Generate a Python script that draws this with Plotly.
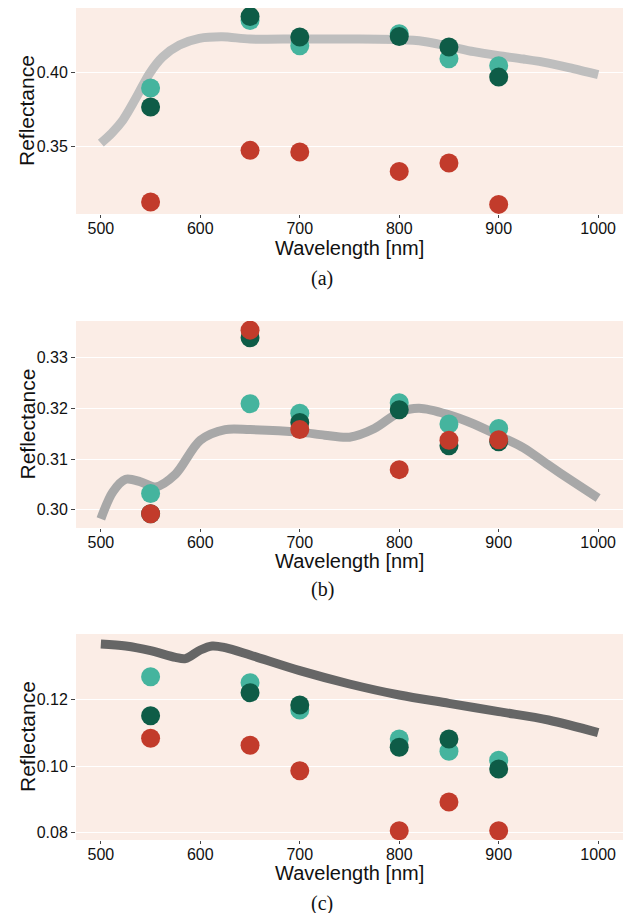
import plotly.graph_objects as go

W, H = 630, 913

wl_pts = [550, 650, 700, 800, 850, 900]

# Panel (a)
a_teal = [0.3894, 0.4351, 0.4180, 0.4261, 0.4092, 0.4045]
a_dark = [0.3766, 0.4378, 0.4239, 0.4243, 0.4171, 0.3968]
a_red = [0.3124, 0.3473, 0.3462, 0.3331, 0.3387, 0.3108]
a_line_x = [500, 511, 522, 535, 549, 562, 579, 599, 622, 650, 700, 750, 800, 825, 850, 875, 900, 925, 950, 975, 1000]
a_line_y = [0.3522, 0.3590, 0.3676, 0.3823, 0.3993, 0.4104, 0.4185, 0.4230, 0.4241, 0.4225, 0.4226, 0.4226, 0.4222, 0.4209, 0.4176, 0.4140, 0.4113, 0.4090, 0.4063, 0.4025, 0.3984]

# Panel (b)
b_teal = [0.3032, 0.3209, 0.3190, 0.3211, 0.3169, 0.3160]
b_dark = [0.2992, 0.3339, 0.3172, 0.3197, 0.3126, 0.3134]
b_red = [0.2992, 0.3354, 0.3158, 0.3079, 0.3137, 0.3138]
b_line_x = [500, 512, 525, 540, 555, 575, 600, 625, 650, 700, 725, 750, 775, 800, 820, 850, 875, 900, 925, 950, 975, 1000]
b_line_y = [0.2982, 0.3035, 0.3060, 0.3055, 0.3045, 0.3070, 0.3137, 0.3158, 0.3158, 0.3153, 0.3147, 0.3143, 0.3160, 0.3192, 0.3200, 0.3187, 0.3169, 0.3146, 0.3122, 0.3088, 0.3055, 0.3023]

# Panel (c)
c_teal = [0.1268, 0.1250, 0.1168, 0.1081, 0.1044, 0.1017]
c_dark = [0.1151, 0.1220, 0.1183, 0.1056, 0.1081, 0.0991]
c_red = [0.1083, 0.1062, 0.0986, 0.0806, 0.0892, 0.0806]
c_line_x = [500, 525, 550, 575, 585, 600, 612, 625, 650, 700, 750, 800, 850, 900, 950, 1000]
c_line_y = [0.1366, 0.1360, 0.1346, 0.1326, 0.1322, 0.1348, 0.1360, 0.1355, 0.1333, 0.1286, 0.1246, 0.1213, 0.1188, 0.1163, 0.1138, 0.1100]

x_ticks = [500, 600, 700, 800, 900, 1000]
a_yticks = [0.35, 0.40]
b_yticks = [0.30, 0.31, 0.32, 0.33]
c_yticks = [0.08, 0.10, 0.12]

TEAL = "#45B49E"
DARK = "#0E5C47"
RED = "#C23B2B"
BG = "#FBEDE6"

panels = [
    dict(teal=a_teal, dark=a_dark, red=a_red, lx=a_line_x, ly=a_line_y, lc="#BEBEBE",
         yr=[0.3043, 0.4435], yt=a_yticks, fmt=".2f", top=8, bot=214, title_y=248, cap_y=278, cap="(a)"),
    dict(teal=b_teal, dark=b_dark, red=b_red, lx=b_line_x, ly=b_line_y, lc="#A8A8A8",
         yr=[0.2964, 0.3372], yt=b_yticks, fmt=".2f", top=321, bot=528, title_y=561, cap_y=589, cap="(b)"),
    dict(teal=c_teal, dark=c_dark, red=c_red, lx=c_line_x, ly=c_line_y, lc="#666666",
         yr=[0.0778, 0.1396], yt=c_yticks, fmt=".2f", top=634, bot=840, title_y=873, cap_y=903, cap="(c)"),
]

fig = go.Figure()
x0, x1 = 76 / W, 623 / W
annotations = []
for i, p in enumerate(panels):
    n = "" if i == 0 else str(i + 1)
    xa, ya = "x" + n, "y" + n
    fig.add_trace(go.Scatter(x=p["lx"], y=p["ly"], mode="lines", line=dict(color=p["lc"], width=9, shape="spline", smoothing=0.9),
                             xaxis=xa, yaxis=ya, showlegend=False, hoverinfo="skip"))
    for vals, col in [(p["teal"], TEAL), (p["dark"], DARK), (p["red"], RED)]:
        fig.add_trace(go.Scatter(x=wl_pts, y=vals, mode="markers", marker=dict(color=col, size=19, line=dict(width=0)),
                                 xaxis=xa, yaxis=ya, showlegend=False))
    fig.update_layout(**{
        "xaxis" + n: dict(domain=[x0, x1], range=[475, 1025], anchor=ya, tickvals=x_ticks,
                          showgrid=False, zeroline=False, ticks="outside", ticklen=3, tickcolor="#444",
                          ticklabelstandoff=-3,
                          tickfont=dict(family="Liberation Sans, Arial", size=16, color="#111"), showline=False),
        "yaxis" + n: dict(domain=[1 - p["bot"] / H, 1 - p["top"] / H], range=p["yr"], anchor=xa, tickvals=p["yt"],
                          tickformat=p["fmt"], showgrid=True, gridcolor="white", gridwidth=1, zeroline=False,
                          ticks="outside", ticklen=4, tickcolor="#444",
                          tickfont=dict(family="Liberation Sans, Arial", size=16, color="#111"), showline=False),
    })
    annotations.append(dict(text="Wavelength [nm]", x=349 / W, y=1 - p["title_y"] / H, xref="paper", yref="paper",
                            showarrow=False, font=dict(family="Liberation Sans, Arial", size=20, color="#111"),
                            xanchor="center", yanchor="middle"))
    annotations.append(dict(text=p["cap"], x=322 / W, y=1 - p["cap_y"] / H, xref="paper", yref="paper",
                            showarrow=False, font=dict(family="Liberation Serif, Times New Roman", size=20, color="#111"),
                            xanchor="center", yanchor="middle"))
    annotations.append(dict(text="Reflectance", x=27 / W, y=1 - ((p["top"] + p["bot"]) / 2) / H, xref="paper", yref="paper",
                            showarrow=False, textangle=-90, font=dict(family="Liberation Sans, Arial", size=21, color="#111"),
                            xanchor="center", yanchor="middle"))

shapes = []
for p in panels:
    shapes.append(dict(type="rect", xref="paper", yref="paper", x0=x0, x1=x1, y0=1 - p["bot"] / H, y1=1 - p["top"] / H,
                       fillcolor=BG, line=dict(width=0), layer="below"))

fig.update_layout(width=W, height=H, margin=dict(l=0, r=0, t=0, b=0), paper_bgcolor="white", plot_bgcolor="rgba(0,0,0,0)",
                  annotations=annotations, shapes=shapes)

fig.write_html("out.html", config={"displayModeBar": False},
               post_script="document.body.style.margin='0px';document.body.style.overflow='hidden';")
